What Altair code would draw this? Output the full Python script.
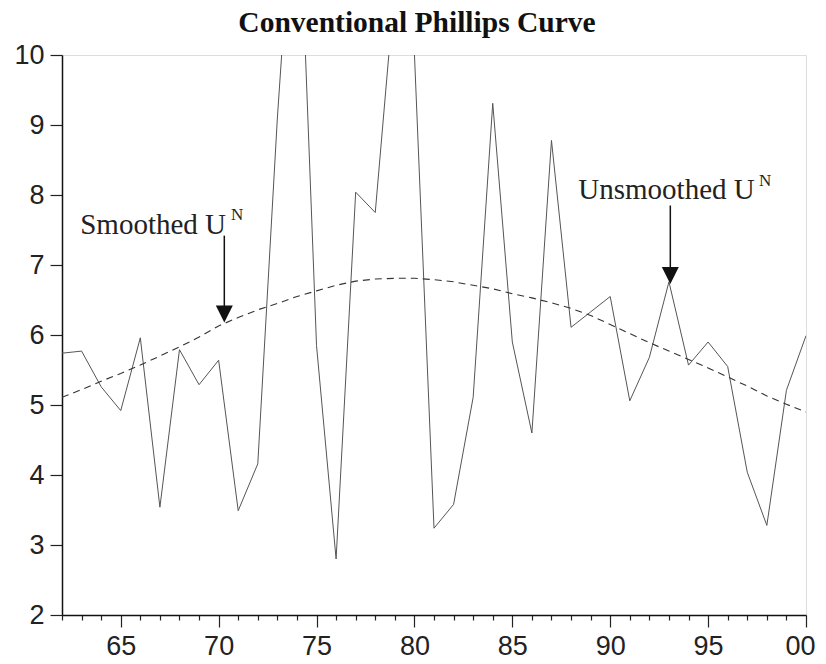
import altair as alt
import pandas as pd

# ---- data ----
years = list(range(1962, 2001))
unsmoothed = [5.74, 5.77, 5.26, 4.92, 5.96, 3.54, 5.79, 5.29, 5.64, 3.49,
              4.16, 9.10, 13.2, 5.85, 2.80, 8.04, 7.75, 11.0, 10.02, 3.24,
              3.58, 5.11, 9.31, 5.90, 4.60, 8.78, 6.11, 6.33, 6.55, 5.06,
              5.68, 6.76, 5.57, 5.90, 5.55, 4.04, 3.28, 5.21, 5.99]
smoothed = [5.11, 5.22, 5.34, 5.45, 5.57, 5.70, 5.83, 5.97, 6.13, 6.25,
            6.36, 6.45, 6.55, 6.63, 6.71, 6.77, 6.80, 6.81, 6.81, 6.79,
            6.76, 6.71, 6.66, 6.59, 6.53, 6.46, 6.38, 6.28, 6.15, 6.02,
            5.89, 5.77, 5.65, 5.53, 5.40, 5.27, 5.13, 5.01, 4.90]

# annotations
ann_text = ["Smoothed U", "Unsmoothed U"]
ann_x = [1962.93, 1988.37]
ann_y = [7.44, 7.95]
sup_text = ["N", "N"]
sup_x = [1970.63, 1997.6]
sup_y = [7.64, 8.13]
arrow_x = [1970.29, 1993.07]
arrow_top = [7.42, 7.85]
arrow_end = [6.41, 6.95]
head_y = [6.30, 6.85]

x_ticks = years
y_ticks = list(range(2, 11))

df = pd.DataFrame({"year": years, "unsmoothed": unsmoothed, "smoothed": smoothed})
ann = pd.DataFrame({"t": ann_text, "x": ann_x, "y": ann_y})
sup = pd.DataFrame({"t": sup_text, "x": sup_x, "y": sup_y})
arr = pd.DataFrame({"x": arrow_x, "y1": arrow_top, "y2": arrow_end, "h": head_y})

xscale = alt.Scale(domain=[1962, 2000], nice=False, zero=False)
yscale = alt.Scale(domain=[2, 10], nice=False, zero=False)

xaxis = alt.Axis(
    title=None, values=x_ticks, grid=False, ticks=True,
    labelExpr="datum.value % 5 == 0 ? substring(toString(datum.value), 2, 4) : ''",
    labelOverlap=False, labelFlush=True, labelFlushOffset=9,
    tickSize={"condition": {"test": "datum.value % 5 == 0", "value": 12}, "value": 5},
    tickWidth=1.2, tickColor="#222",
    labelPadding=6, labelFont="Liberation Sans", labelFontSize=27,
    labelColor="#222", domainColor="#111", domainWidth=1.5,
)
yaxis = alt.Axis(
    title=None, values=y_ticks, grid=False, ticks=True, tickSize=12, labelPadding=6,
    tickWidth=1.2, tickColor="#222",
    format="d", labelOverlap=False,
    labelFont="Liberation Sans", labelFontSize=27, labelColor="#222",
    domainColor="#111", domainWidth=1.5,
)


def X(field):
    return alt.X(field, type="quantitative", scale=xscale, axis=xaxis)


def Y(field):
    return alt.Y(field, type="quantitative", scale=yscale, axis=yaxis)


base = alt.Chart(df)
line_u = base.mark_line(color="#555", strokeWidth=1, clip=True).encode(
    x=X("year"), y=Y("unsmoothed")
)
line_s = base.mark_line(color="#333", strokeWidth=1.1, strokeDash=[7, 5], clip=True).encode(
    x=X("year"), y=Y("smoothed")
)

txt = alt.Chart(ann).mark_text(
    font="Liberation Serif", fontSize=29, align="left", baseline="alphabetic", color="#222"
).encode(x=X("x"), y=Y("y"), text="t:N")
stxt = alt.Chart(sup).mark_text(
    font="Liberation Serif", fontSize=17, align="left", baseline="alphabetic", color="#222"
).encode(x=X("x"), y=Y("y"), text="t:N")
rules = alt.Chart(arr).mark_rule(color="#111", strokeWidth=1.5).encode(
    x=X("x"), y=Y("y1"), y2="y2:Q"
)
heads = alt.Chart(arr).mark_point(
    shape="M-1,-1L1,-1L0,1Z", filled=True, color="#111", size=289, opacity=1
).encode(x=X("x"), y=Y("h"))

chart = alt.layer(line_u, line_s, rules, heads, txt, stxt).properties(
    width=744, height=560,
    title=alt.TitleParams(
        "Conventional Phillips Curve", font="Liberation Serif", fontSize=29.5,
        fontWeight="bold", color="#111", anchor="middle", offset=3, dx=-17,
    ),
    autosize=alt.AutoSizeParams(type="none"),
    padding={"left": 54, "top": 47, "right": 10, "bottom": 44},
).configure_view(stroke="#111", strokeWidth=1.5).configure(background="white")

chart.save("out.html", embed_options={"renderer": "svg", "actions": False})
